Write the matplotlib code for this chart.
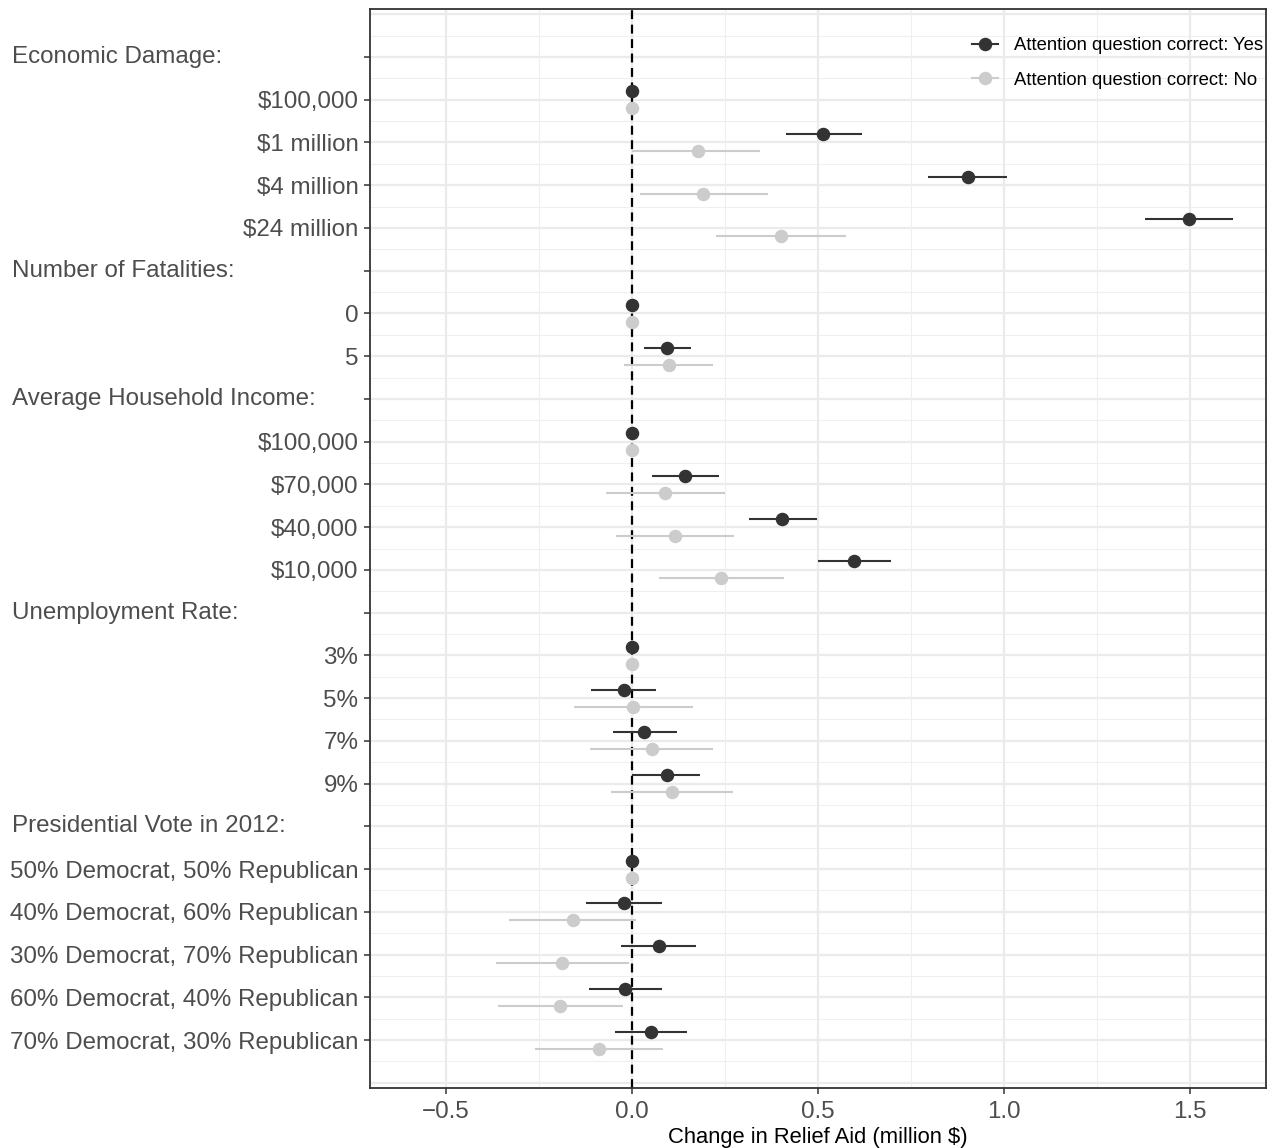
import matplotlib.pyplot as plt
import matplotlib.transforms as mtransforms
import numpy as np

plt.rcParams['font.family'] = ['Liberation Sans', 'DejaVu Sans']

row_labels = [
    "Economic Damage:", "$100,000", "$1 million", "$4 million", "$24 million",
    "Number of Fatalities:", "0", "5",
    "Average Household Income:", "$100,000", "$70,000", "$40,000", "$10,000",
    "Unemployment Rate:", "3%", "5%", "7%", "9%",
    "Presidential Vote in 2012:", "50% Democrat, 50% Republican",
    "40% Democrat, 60% Republican", "30% Democrat, 70% Republican",
    "60% Democrat, 40% Republican", "70% Democrat, 30% Republican",
]
is_header = [True, False, False, False, False,
             True, False, False,
             True, False, False, False, False,
             True, False, False, False, False,
             True, False, False, False, False, False]

nan = np.nan
# attention question correct: Yes
yes_est = [nan, 0.0, 0.512, 0.902, 1.498,
           nan, 0.0, 0.093,
           nan, 0.0, 0.143, 0.404, 0.597,
           nan, 0.0, -0.023, 0.033, 0.093,
           nan, 0.0, -0.023, 0.072, -0.019, 0.050]
yes_lo = [nan, 0.0, 0.413, 0.796, 1.379,
          nan, 0.0, 0.031,
          nan, 0.0, 0.054, 0.314, 0.501,
          nan, 0.0, -0.110, -0.052, 0.000,
          nan, 0.0, -0.123, -0.030, -0.116, -0.047]
yes_hi = [nan, 0.0, 0.617, 1.009, 1.616,
          nan, 0.0, 0.157,
          nan, 0.0, 0.233, 0.496, 0.696,
          nan, 0.0, 0.065, 0.120, 0.182,
          nan, 0.0, 0.081, 0.173, 0.081, 0.148]
# attention question correct: No
no_est = [nan, 0.0, 0.176, 0.191, 0.401,
          nan, 0.0, 0.098,
          nan, 0.0, 0.089, 0.116, 0.240,
          nan, 0.0, 0.002, 0.053, 0.106,
          nan, 0.0, -0.160, -0.188, -0.194, -0.090]
no_lo = [nan, 0.0, 0.000, 0.020, 0.226,
         nan, 0.0, -0.022,
         nan, 0.0, -0.070, -0.044, 0.073,
         nan, 0.0, -0.156, -0.113, -0.057,
         nan, 0.0, -0.332, -0.367, -0.360, -0.260]
no_hi = [nan, 0.0, 0.345, 0.364, 0.574,
         nan, 0.0, 0.218,
         nan, 0.0, 0.250, 0.275, 0.407,
         nan, 0.0, 0.163, 0.218, 0.272,
         nan, 0.0, 0.011, -0.009, -0.025, 0.082]

n = len(row_labels)
pos = np.arange(n, 0, -1)
dodge = 0.2

fig = plt.figure(figsize=(12.68, 11.48), dpi=100)
W, H = 1268, 1148
ax = fig.add_axes([369.5 / W, (H - 1088) / H, (1266 - 369.5) / W, (1088 - 9) / H])

# grid
for y in np.arange(0.5, n + 1, 1):
    ax.axhline(y, color='#EFEFEF', lw=0.8, zorder=0)
for y in np.arange(0, n + 2, 1):
    ax.axhline(y, color='#EBEBEB', lw=1.6, zorder=0)
for x in [-0.25, 0.25, 0.75, 1.25]:
    ax.axvline(x, color='#EFEFEF', lw=0.8, zorder=0)
for x in [-0.5, 0.0, 0.5, 1.0, 1.5]:
    ax.axvline(x, color='#EBEBEB', lw=1.6, zorder=0)

ax.axvline(0, color='black', lw=1.6, ls=(0, (4, 2.5)), zorder=2)

ax.hlines(pos + dodge, yes_lo, yes_hi, color='#333333', lw=1.5, zorder=3)
ax.plot(yes_est, pos + dodge, 'o', color='#333333', ms=8.7, zorder=4)
ax.hlines(pos - dodge, no_lo, no_hi, color='#CCCCCC', lw=1.5, zorder=3)
ax.plot(no_est, pos - dodge, 'o', color='#CCCCCC', ms=8.7, zorder=4)

ax.set_xlim(-0.706, 1.704)
ax.set_ylim(-0.12, 25.12)

ax.set_xticks([-0.5, 0.0, 0.5, 1.0, 1.5])
ax.set_xticklabels(['\u22120.5', '0.0', '0.5', '1.0', '1.5'])
ax.set_yticks(pos)
ax.set_yticklabels(['' if h else lab for lab, h in zip(row_labels, is_header)])
ax.tick_params(axis='both', length=4, width=1.1, color='#333333',
               labelcolor='#4D4D4D', labelsize=17.4)
ax.tick_params(axis='y', pad=4)
ax.tick_params(axis='x', pad=5)

trans = mtransforms.blended_transform_factory(fig.transFigure, ax.transData)
for lab, h, y in zip(row_labels, is_header, pos):
    if h:
        fig.text(12 / W, y, lab, transform=trans, ha='left', va='center',
                 fontsize=17.4, color='#4D4D4D')

for s in ax.spines.values():
    s.set_color('#333333')
    s.set_linewidth(1.3)

fig.text(817.5 / W, 1 - 1137 / H, 'Change in Relief Aid (million $)',
         ha='center', va='center', fontsize=15.8, color='black')

h_yes, = ax.plot([], [], 'o-', color='#333333', ms=8.7, lw=1.5,
                 label='Attention question correct: Yes')
h_no, = ax.plot([], [], 'o-', color='#CCCCCC', ms=8.7, lw=1.5,
                label='Attention question correct: No')
ax.legend(handles=[h_yes, h_no], loc='upper left',
          bbox_to_anchor=((972 - 369.5) / (1266 - 369.5), 1 - (37 - 9) / (1088 - 9)),
          frameon=False, fontsize=13.3, handlelength=1.4, handletextpad=0.9,
          labelspacing=0.95, borderpad=0, borderaxespad=0, labelcolor='black')

fig.savefig('out.png', dpi=100)
